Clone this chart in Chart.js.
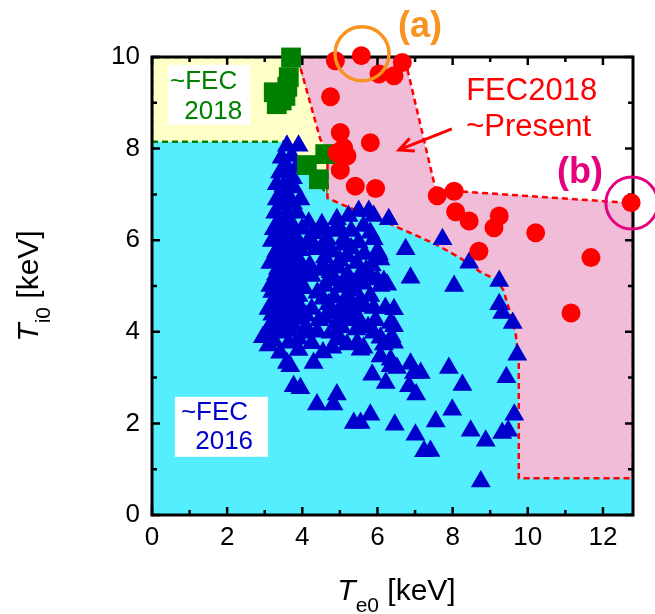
<!DOCTYPE html>
<html>
<head>
<meta charset="utf-8">
<script src="https://cdn.jsdelivr.net/npm/chart.js@4/dist/chart.umd.min.js"></script>
<style>
html,body{margin:0;padding:0;background:#fff;}
</style>
</head>
<body>
<canvas id="chart" width="655" height="614"></canvas>
<script>
const family = "'Liberation Sans', Arial, sans-serif";

const xTicks = [0, 2, 4, 6, 8, 10, 12];
const yTicks = [0, 2, 4, 6, 8, 10];
const xMinor = [1, 3, 5, 7, 9, 11];
const yMinor = [1, 3, 5, 7, 9];

// Te0, Ti0 [keV] up to FEC2016 (triangles)
const fec2016 = [
  [3.59,8.06],[3.90,8.06],[3.72,7.84],[3.41,7.48],[3.59,7.48],[3.32,7.22],[3.50,7.18],[3.77,7.15],
  [3.95,6.89],[3.32,6.89],[3.62,6.95],[3.28,6.60],[3.59,6.60],[3.86,6.60],[4.17,6.38],[4.52,6.35],
  [4.92,6.46],[5.23,6.53],[5.50,6.64],[5.77,6.64],[5.63,6.31],[5.10,6.02],[4.66,6.02],[4.21,6.02],
  [4.52,6.24],[3.50,6.31],[3.24,6.24],[3.19,5.98],[3.50,5.98],[3.86,6.02],[3.72,6.30],[4.00,6.25],
  [4.85,6.20],[5.30,6.20],
  [6.30,6.46],[5.90,6.53],[7.73,6.02],[6.75,5.80],[8.44,5.51],[6.88,5.18],[8.04,5.00],[9.24,5.11],
  [9.24,4.60],[6.04,5.69],[5.90,6.02],[6.08,5.00],[6.26,5.03],[6.21,4.52],[6.44,4.49],[5.90,4.52],
  [6.35,4.19],[5.81,6.16],[6.00,5.76],[6.08,5.58],[5.81,5.21],[5.99,5.14],[5.81,4.78],[6.17,5.11],
  [9.32,4.41],[9.60,4.19],[9.72,3.50],[7.90,3.21],[8.26,2.84],[9.43,3.01],[7.99,2.30],[9.64,2.19],
  [7.55,2.04],[8.48,1.84],[8.88,1.62],[9.32,1.79],[9.48,1.84],[7.01,1.75],[7.24,1.39],[7.41,1.40],
  [6.46,1.97],[8.75,0.73],[6.44,4.12],[6.44,3.76],[6.22,2.88],[6.38,3.89],
  [5.81,2.19],[5.37,2.01],[5.55,2.01],[4.39,2.41],[4.92,2.63],[4.83,2.41],[3.95,2.77],[3.77,2.81],
  [4.30,3.32],[4.55,3.55],[4.25,3.75],[3.59,3.32],[5.86,3.06],[6.52,3.21],[6.88,3.30],[7.15,3.10],
  [6.97,3.10],[6.84,2.81],[7.03,2.63],[5.01,3.83],[5.19,3.72],[5.46,3.76],[5.63,3.65],[6.08,3.87],
  [6.17,3.72],[6.08,3.46],[6.35,3.39],[6.35,3.25],[4.04,3.98],[3.64,3.76],[3.41,3.54],[3.68,3.25],
  [5.90,3.98],[5.55,3.61],[4.92,3.83],
  [3.30,5.75],[3.60,5.72],[3.95,5.78],[4.35,5.80],[4.80,5.75],[5.30,5.82],[5.65,5.70],
  [3.15,5.50],[3.45,5.48],[3.75,5.52],[4.20,5.45],[4.55,5.45],[5.00,5.55],[5.45,5.50],[5.85,5.45],
  [3.30,5.25],[3.60,5.22],[3.90,5.28],[4.25,5.22],[4.75,5.30],[5.20,5.25],[5.50,5.20],
  [3.15,5.00],[3.45,4.98],[3.75,5.02],[4.05,4.95],[4.60,5.00],[5.00,4.98],[5.35,5.05],
  [3.30,4.75],[3.60,4.72],[3.90,4.78],[4.55,4.72],[4.85,4.75],[5.20,4.80],[5.55,4.70],
  [3.10,4.50],[3.40,4.48],[3.70,4.52],[4.00,4.45],[4.25,4.50],[5.00,4.50],[5.35,4.45],[5.65,4.55],
  [3.25,4.25],[3.55,4.22],[3.85,4.28],[4.45,4.25],[4.60,4.30],[4.90,4.15],[5.20,4.25],[5.55,4.20],
  [5.95,4.25],[3.05,4.00],[3.35,3.98],[3.65,4.02],[4.40,4.00],[4.75,3.98],[5.45,4.05],
  [2.95,3.88],[3.25,3.80],[3.90,3.85],
  [3.45,7.80],[3.55,7.65],[3.85,7.60],[3.75,7.35],[3.45,7.00],[3.45,6.78],[3.75,6.80],
  [3.40,6.45],[3.65,6.45],[3.35,6.12],[3.65,6.15],[4.30,6.15],[5.00,6.25],
  [3.40,5.87],[3.70,5.85],[4.10,5.90],[4.55,5.90],[5.10,5.90],[5.50,5.95],
  [3.25,5.62],[3.55,5.60],[3.85,5.65],[4.60,5.62],[5.20,5.65],
  [3.35,5.37],[3.65,5.35],[4.00,5.38],[4.50,5.35],[4.95,5.40],[5.70,5.35],
  [3.25,5.12],[3.55,5.10],[3.90,5.15],[4.80,5.12],[5.15,5.10],[5.60,5.05],
  [3.20,4.87],[3.50,4.85],[3.80,4.90],[4.40,4.85],[5.40,4.90],
  [3.25,4.62],[3.55,4.60],[3.85,4.65],[4.70,4.60],[5.20,4.60],[5.50,4.60],
  [3.20,4.37],[3.50,4.35],[3.80,4.40],[4.10,4.35],[4.75,4.40],[5.10,4.38],[5.45,4.35],
  [3.15,4.12],[3.45,4.10],[3.75,4.15],[4.10,4.10],[5.05,4.10],[5.75,4.10],
  [3.10,3.70],[3.90,3.60],[4.80,3.65]
];

// FEC2016 - FEC2018 (squares)
const fec2018 = [
  [3.70,9.99],[3.64,9.56],[3.60,9.35],[3.24,9.23],[3.55,9.15],[3.32,8.97],[3.45,9.05],
  [4.61,7.88],[4.12,7.64],[4.44,7.33]
];

// FEC2018 ~ present (circles)
const present = [
  [4.88,9.92],[5.57,10.03],[6.04,9.63],[6.44,9.59],[6.66,9.88],[4.75,9.13],[5.01,8.35],[5.81,8.13],
  [5.10,8.02],[4.92,7.91],[5.19,7.84],[5.01,7.53],[5.41,7.18],[5.95,7.13],[7.59,6.97],[8.04,7.07],
  [8.08,6.62],[8.44,6.42],[9.24,6.53],[9.10,6.27],[8.70,5.76],[10.21,6.16],[11.68,5.62],[11.15,4.41],
  [12.75,6.82]
];

// operating regions (polygon corners, keV)
const area2016 = [
  [0,0],[0,8.15],[3.5,8.15],[4.67,7.0],[7.0,6.5],[12.8,6.5],[12.8,0],[0,0]
];
const area2018 = [
  [0,8.15],[3.5,8.15],[4.67,7.0],[4.67,8.0],[3.87,10],[0,10],[0,8.15]
];
const areaPresent = [
  [3.87,10],[6.72,10],[7.55,7.1],[12.8,6.81],[12.8,0.8],[9.76,0.8],[9.76,3.33],[9.68,3.94],
  [9.5,4.5],[9.35,4.91],[9.17,5.13],[8.73,5.31],[8.2,5.61],[7.58,5.9],[6.87,6.16],[6.07,6.45],
  [5.28,6.7],[4.67,6.92],[4.67,7.99],[4.61,8.05],[4.48,8.2],[3.87,10]
];

function pts(list){
  return list.map(function(p){ return {x:p[0], y:p[1]}; });
}

// frame and inward ticks, drawn over the shaded areas but under the markers
const frame = {
  id: "frame",
  afterDatasetDraw(chart, args){
    if(args.meta.label !== "present area") return;
    const ctx = chart.ctx;
    const a = chart.chartArea;
    const sx = chart.scales.x, sy = chart.scales.y;
    ctx.save();
    ctx.strokeStyle = "#000";
    ctx.lineWidth = 2.5;
    ctx.beginPath();
    xTicks.concat(xMinor).forEach(function(v){
      const p = sx.getPixelForValue(v);
      const len = xTicks.includes(v) ? 8 : 5;
      ctx.moveTo(p, a.bottom); ctx.lineTo(p, a.bottom - len);
      ctx.moveTo(p, a.top); ctx.lineTo(p, a.top + len);
    });
    yTicks.concat(yMinor).forEach(function(v){
      const p = sy.getPixelForValue(v);
      const len = yTicks.includes(v) ? 8 : 5;
      ctx.moveTo(a.left, p); ctx.lineTo(a.left + len, p);
      ctx.moveTo(a.right, p); ctx.lineTo(a.right - len, p);
    });
    ctx.stroke();
    ctx.lineWidth = 3;
    ctx.strokeRect(a.left, a.top, a.right - a.left, a.bottom - a.top);
    ctx.restore();
  }
};

function axisTitle(ctx, main, sub, rest){
  const f1 = "italic 30px " + family, f2 = "21px " + family, f3 = "30px " + family;
  ctx.font = f1; const w1 = ctx.measureText(main).width;
  ctx.font = f2; const w2 = ctx.measureText(sub).width;
  ctx.font = f3; const w3 = ctx.measureText(rest).width;
  let x = -(w1 + w2 + w3) / 2;
  ctx.textAlign = "left";
  ctx.textBaseline = "alphabetic";
  ctx.font = f1; ctx.fillText(main, x, 0); x += w1;
  ctx.font = f2; ctx.fillText(sub, x, 12); x += w2;
  ctx.font = f3; ctx.fillText(rest, x, 0);
}

// labels, rings, arrow and axis titles
const notes = {
  id: "notes",
  afterDraw(chart){
    const ctx = chart.ctx;
    const a = chart.chartArea;
    const sx = chart.scales.x, sy = chart.scales.y;
    const X = function(v){ return sx.getPixelForValue(v); };
    const Y = function(v){ return sy.getPixelForValue(v); };
    ctx.save();

    // white boxes with era labels
    ctx.fillStyle = "#fff";
    ctx.fillRect(X(0.43), Y(9.83), X(2.61) - X(0.43), Y(8.52) - Y(9.83));
    ctx.fillRect(X(0.61), Y(2.58), X(3.09) - X(0.61), Y(1.27) - Y(2.58));
    ctx.font = "26px " + family;
    ctx.textAlign = "left";
    ctx.textBaseline = "middle";
    ctx.fillStyle = "#008000";
    ctx.fillText("~FEC", X(0.48), Y(9.45));
    ctx.fillText("2018", X(0.86), Y(8.80));
    ctx.fillStyle = "#0000cc";
    ctx.fillText("~FEC", X(0.77), Y(2.23));
    ctx.fillText("2016", X(1.15), Y(1.59));

    ctx.font = "31px " + family;
    ctx.fillStyle = "#ff0000";
    ctx.fillText("FEC2018", X(8.36), Y(9.24));
    ctx.fillText("~Present", X(8.36), Y(8.47));

    // arrow to the pink area
    const x0 = X(7.98), y0 = Y(8.43), x1 = X(6.57), y1 = Y(7.97);
    const ang = Math.atan2(y1 - y0, x1 - x0);
    ctx.strokeStyle = "#ff0000";
    ctx.lineWidth = 3;
    ctx.beginPath();
    ctx.moveTo(x0, y0); ctx.lineTo(x1, y1);
    ctx.moveTo(x1 - 16 * Math.cos(ang - 0.45), y1 - 16 * Math.sin(ang - 0.45));
    ctx.lineTo(x1, y1);
    ctx.lineTo(x1 - 16 * Math.cos(ang + 0.45), y1 - 16 * Math.sin(ang + 0.45));
    ctx.stroke();

    // highlighted shots
    ctx.lineWidth = 3.5;
    ctx.strokeStyle = "#f7931e";
    ctx.beginPath(); ctx.arc(X(5.59), Y(10.07), 27, 0, Math.PI * 2); ctx.stroke();
    ctx.lineWidth = 3;
    ctx.strokeStyle = "#e5007f";
    ctx.beginPath(); ctx.arc(X(12.77), Y(6.81), 26, 0, Math.PI * 2); ctx.stroke();

    ctx.font = "bold 36px " + family;
    ctx.textAlign = "center";
    ctx.fillStyle = "#f7931e";
    ctx.fillText("(a)", X(7.13), Y(10.66));
    ctx.fillStyle = "#e5007f";
    ctx.fillText("(b)", X(11.39), Y(7.47));

    // axis titles
    ctx.fillStyle = "#000";
    ctx.save();
    ctx.translate((a.left + a.right) / 2 + 4, 600);
    axisTitle(ctx, "T", "e0", " [keV]");
    ctx.restore();
    ctx.save();
    ctx.translate(38, (a.top + a.bottom) / 2);
    ctx.rotate(-Math.PI / 2);
    axisTitle(ctx, "T", "i0", " [keV]");
    ctx.restore();

    ctx.restore();
  }
};

new Chart(document.getElementById("chart"), {
  type: "scatter",
  data: {
    datasets: [
      {label:"FEC2018 ~ present", data:pts(present), pointStyle:"circle", pointRadius:9.5,
       backgroundColor:"#ff0000", borderWidth:0, order:1, clip:false},
      {label:"~FEC2018", data:pts(fec2018), pointStyle:"rect", pointRadius:14,
       backgroundColor:"#008000", borderWidth:0, order:2, clip:false},
      {label:"~FEC2016", data:pts(fec2016), pointStyle:"triangle", pointRadius:11.5,
       backgroundColor:"#0000cc", borderWidth:0, order:3, clip:false},
      {type:"line", label:"present area", data:pts(areaPresent), fill:"shape",
       backgroundColor:"#f0bcd8", borderColor:"#ff0000", borderWidth:2.5, borderDash:[6,4],
       pointRadius:0, tension:0, order:4},
      {type:"line", label:"2018 area", data:pts(area2018), fill:"shape",
       backgroundColor:"#ffffc8", borderColor:"#008000", borderWidth:2.5, borderDash:[6,4],
       pointRadius:0, tension:0, order:5},
      {type:"line", label:"2016 area", data:pts(area2016), fill:"shape",
       backgroundColor:"#55eeff", borderWidth:0,
       pointRadius:0, tension:0, order:6}
    ]
  },
  options: {
    responsive: false,
    animation: false,
    layout: { padding: { top:57, right:22, left:0, bottom:0 } },
    plugins: { legend:{display:false}, tooltip:{enabled:false} },
    scales: {
      x: {
        type: "linear", min: 0, max: 12.8,
        grid: { display:false, drawTicks:false },
        border: { display:false },
        ticks: { color:"#000", padding:7, font:{ size:26, family:family } },
        afterBuildTicks: function(s){ s.ticks = xTicks.map(function(v){ return {value:v}; }); },
        afterFit: function(s){ s.height = 99; }
      },
      y: {
        type: "linear", min: 0, max: 10,
        grid: { display:false, drawTicks:false },
        border: { display:false },
        ticks: { color:"#000", padding:12, font:{ size:26, family:family } },
        afterBuildTicks: function(s){ s.ticks = yTicks.map(function(v){ return {value:v}; }); },
        afterFit: function(s){ s.width = 152; }
      }
    }
  },
  plugins: [frame, notes]
});
</script>
</body>
</html>
